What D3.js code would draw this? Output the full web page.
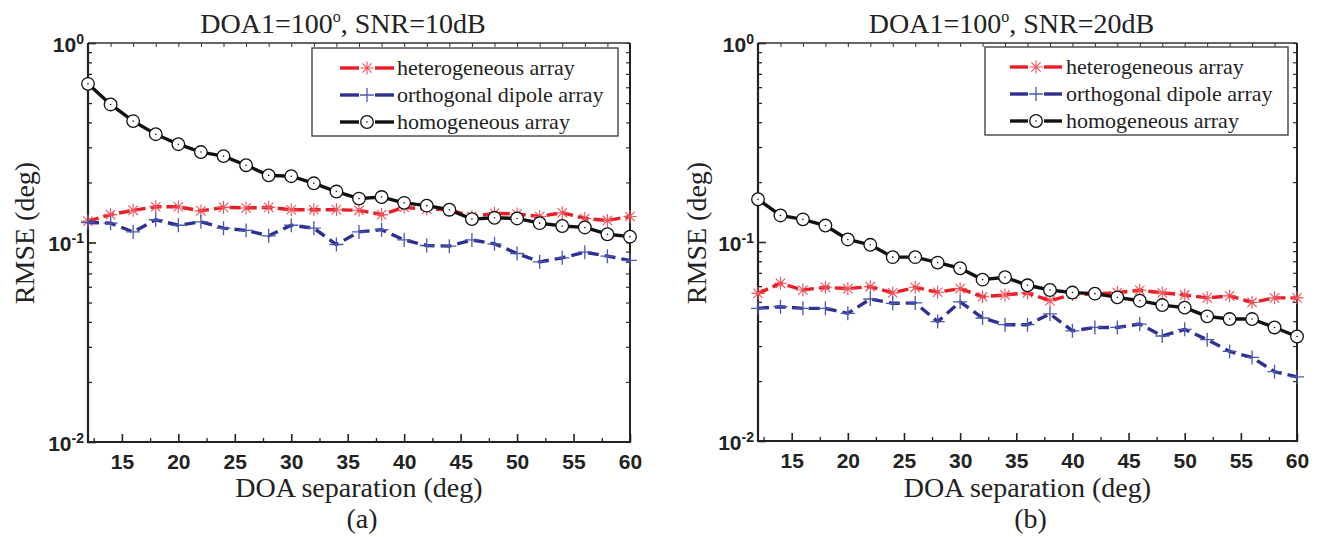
<!DOCTYPE html>
<html><head><meta charset="utf-8">
<script src="https://cdn.jsdelivr.net/npm/d3@7"></script>
<style>body{margin:0;background:#fff}svg{display:block}</style>
</head><body>
<svg id="c" width="1321" height="537"></svg>
<script>
// ---------- data ----------
const separation = [12,14,16,18,20,22,24,26,28,30,32,34,36,38,40,42,44,46,48,50,52,54,56,58,60];

// (a) SNR = 10 dB
const heteroA = [0.128,0.138,0.145,0.151,0.151,0.144,0.150,0.149,0.150,0.146,0.146,0.146,0.145,0.138,0.150,0.147,0.146,0.135,0.140,0.139,0.135,0.141,0.132,0.129,0.135];
const orthoA  = [0.126,0.125,0.113,0.130,0.122,0.127,0.118,0.115,0.108,0.122,0.118,0.0977,0.113,0.116,0.103,0.0966,0.0959,0.103,0.0985,0.0881,0.080,0.0838,0.0894,0.0854,0.0813];
const homoA   = [0.624,0.492,0.406,0.349,0.311,0.284,0.271,0.244,0.217,0.215,0.198,0.180,0.166,0.169,0.158,0.153,0.146,0.131,0.133,0.132,0.125,0.121,0.119,0.110,0.107];

// (b) SNR = 20 dB
const heteroB = [0.0552,0.062,0.0574,0.0592,0.0583,0.0597,0.0555,0.0592,0.0559,0.0583,0.0531,0.0542,0.0555,0.0507,0.0544,0.0548,0.0557,0.0572,0.0555,0.0542,0.0524,0.0536,0.0497,0.0524,0.0524];
const orthoB  = [0.0464,0.0473,0.0464,0.0464,0.0438,0.0517,0.0492,0.0494,0.0398,0.050,0.0415,0.0384,0.0384,0.0435,0.0358,0.0372,0.0372,0.0387,0.0337,0.0364,0.0323,0.0282,0.0263,0.0223,0.021];
const homoB   = [0.164,0.136,0.130,0.121,0.103,0.0968,0.0839,0.0839,0.0788,0.0738,0.0647,0.0665,0.0606,0.0574,0.0557,0.055,0.0527,0.0507,0.0482,0.0468,0.0423,0.041,0.041,0.0372,0.0335];

const seriesNames = ["heterogeneous array", "orthogonal dipole array", "homogeneous array"];
const xTickValues = [15,20,25,30,35,40,45,50,55,60];
const xMinorTicks = [12.5,17.5,22.5,27.5,32.5,37.5,42.5,47.5,52.5,57.5];
const yTickValues = [0.01, 0.1, 1];
const yTickExponents = ["-2", "-1", "0"];
const yMinorTicks = [0.02,0.03,0.04,0.05,0.06,0.07,0.08,0.09,0.2,0.3,0.4,0.5,0.6,0.7,0.8,0.9];
const titleBase = ["DOA1=100", "DOA1=100"];
const titleSup = ["o", "o"];
const titleTail = [", SNR=10dB", ", SNR=20dB"];
const panelTags = ["(a)", "(b)"];
const xLabel = "DOA separation (deg)";
const yLabel = "RMSE (deg)";

// ---------- styling / layout ----------
const panels = [
  {x0: 88, x1: 630, y0: 43, y1: 442, data: [heteroA, orthoA, homoA], legend: {x: 312, y: 48, w: 306, h: 88, lx0: 340, lx1: 394, tx: 397}, ylabX: 34},
  {x0: 758, x1: 1297, y0: 43, y1: 441, data: [heteroB, orthoB, homoB], legend: {x: 985, y: 47, w: 303, h: 88, lx0: 1010, lx1: 1062, tx: 1066}, ylabX: 706}
];
const styles = [
  {line: "#ec1c24", dash: "11,5", mark: "#f0505a", type: "star"},
  {line: "#2e3192", dash: "11,6", mark: "#4b58b0", type: "plus"},
  {line: "#111111", dash: null, mark: "#111111", type: "circle"}
];
const serif = "'Liberation Serif', 'Times New Roman', serif";
const sans = "'Liberation Sans', Arial, sans-serif";

const svg = d3.select("#c");

function drawMarker(g, type, cx, cy, color) {
  if (type === "star") {
    const r = 6.5, d = r * 0.72;
    g.append("path")
      .attr("d", `M${cx-r},${cy}L${cx+r},${cy}M${cx},${cy-r}L${cx},${cy+r}M${cx-d},${cy-d}L${cx+d},${cy+d}M${cx-d},${cy+d}L${cx+d},${cy-d}`)
      .attr("stroke", color).attr("stroke-width", 1.1).attr("fill", "none");
  } else if (type === "plus") {
    const r = 7;
    g.append("path")
      .attr("d", `M${cx-r},${cy}L${cx+r},${cy}M${cx},${cy-r}L${cx},${cy+r}`)
      .attr("stroke", color).attr("stroke-width", 1.3).attr("fill", "none");
  } else {
    g.append("circle").attr("cx", cx).attr("cy", cy).attr("r", 6.3)
      .attr("fill", "#fff").attr("stroke", color).attr("stroke-width", 1.3);
    g.append("circle").attr("cx", cx).attr("cy", cy).attr("r", 0.8).attr("fill", color);
  }
}

panels.forEach((p, pi) => {
  const x = d3.scaleLinear().domain([12, 60]).range([p.x0, p.x1]);
  const y = d3.scaleLog().domain([0.01, 1]).range([p.y1, p.y0]);
  const g = svg.append("g");

  // bottom axis (major, inward)
  const bx = g.append("g").attr("transform", `translate(0,${p.y1})`)
    .call(d3.axisBottom(x).tickValues(xTickValues).tickSize(-8).tickSizeOuter(0).tickPadding(14).tickFormat(d3.format("d")));
  bx.select(".domain").remove();
  bx.selectAll("line").attr("stroke", "#222").attr("stroke-width", 1.6);
  bx.selectAll("text").attr("font-family", sans).attr("font-weight", "bold").attr("font-size", 21)
    .attr("fill", "#222").attr("dy", "0.95em").attr("y", 7);
  // bottom minor ticks
  const bm = g.append("g").attr("transform", `translate(0,${p.y1})`)
    .call(d3.axisBottom(x).tickValues(xMinorTicks).tickSize(-4).tickSizeOuter(0).tickFormat(""));
  bm.select(".domain").remove();
  bm.selectAll("line").attr("stroke", "#222").attr("stroke-width", 1.3);
  // top ticks
  const tm = g.append("g").attr("transform", `translate(0,${p.y0})`)
    .call(d3.axisTop(x).tickValues(separation.slice(1, -1)).tickSize(-4).tickSizeOuter(0).tickFormat(""));
  tm.select(".domain").remove();
  tm.selectAll("line").attr("stroke", "#333").attr("stroke-width", 1);

  // left axis major
  const ly = g.append("g").attr("transform", `translate(${p.x0},0)`)
    .call(d3.axisLeft(y).tickValues(yTickValues).tickSize(-8).tickSizeOuter(0).tickPadding(4).tickFormat(""));
  ly.select(".domain").remove();
  ly.selectAll("line").attr("stroke", "#222").attr("stroke-width", 1.6);
  ly.selectAll(".tick").each(function(d, i) {
    const t = d3.select(this).append("text")
      .attr("x", -4).attr("y", 8).attr("text-anchor", "end")
      .attr("font-family", sans).attr("font-weight", "bold").attr("font-size", 21).attr("fill", "#222");
    t.append("tspan").text("10");
    t.append("tspan").attr("font-size", 14).attr("dy", -8).text(yTickExponents[i]);
  });
  const lm = g.append("g").attr("transform", `translate(${p.x0},0)`)
    .call(d3.axisLeft(y).tickValues(yMinorTicks).tickSize(-4).tickSizeOuter(0).tickFormat(""));
  lm.select(".domain").remove();
  lm.selectAll("line").attr("stroke", "#222").attr("stroke-width", 1.3);
  // right axis ticks
  const rm = g.append("g").attr("transform", `translate(${p.x1},0)`)
    .call(d3.axisRight(y).tickValues(yMinorTicks.concat(yTickValues)).tickSize(-4).tickSizeOuter(0).tickFormat(""));
  rm.select(".domain").remove();
  rm.selectAll("line").attr("stroke", "#333").attr("stroke-width", 1.2);

  // frame
  g.append("line").attr("x1", p.x0).attr("x2", p.x1).attr("y1", p.y0).attr("y2", p.y0).attr("stroke", "#333").attr("stroke-width", 1.5);
  g.append("line").attr("x1", p.x1).attr("x2", p.x1).attr("y1", p.y0).attr("y2", p.y1).attr("stroke", "#222").attr("stroke-width", 2);
  g.append("line").attr("x1", p.x0).attr("x2", p.x0).attr("y1", p.y0).attr("y2", p.y1 + 1).attr("stroke", "#222").attr("stroke-width", 2.2);
  g.append("line").attr("x1", p.x0 - 1).attr("x2", p.x1 + 1).attr("y1", p.y1).attr("y2", p.y1).attr("stroke", "#222").attr("stroke-width", 2.2);

  // series
  const line = d3.line().x((d, i) => x(separation[i])).y(d => y(d));
  p.data.forEach((vals, si) => {
    const st = styles[si];
    const sg = g.append("g");
    sg.append("path").datum(vals).attr("d", line).attr("fill", "none")
      .attr("stroke", st.line).attr("stroke-width", 3.4)
      .attr("stroke-dasharray", st.dash).attr("stroke-linejoin", "round");
    vals.forEach((v, i) => drawMarker(sg, st.type, x(separation[i]), y(v), st.mark));
  });

  // legend
  const L = p.legend;
  const lg = g.append("g");
  lg.append("rect").attr("x", L.x).attr("y", L.y).attr("width", L.w).attr("height", L.h)
    .attr("fill", "#fff").attr("stroke", "#444").attr("stroke-width", 1.4);
  seriesNames.forEach((name, si) => {
    const st = styles[si];
    const cy = L.y + 20 + si * 27;
    const mid = (L.lx0 + L.lx1) / 2;
    lg.append("line").attr("x1", L.lx0).attr("x2", mid - 8).attr("y1", cy).attr("y2", cy)
      .attr("stroke", st.line).attr("stroke-width", 3.4);
    lg.append("line").attr("x1", mid + 8).attr("x2", L.lx1).attr("y1", cy).attr("y2", cy)
      .attr("stroke", st.line).attr("stroke-width", 3.4);
    drawMarker(lg, st.type, mid, cy, st.mark);
    lg.append("text").attr("x", L.tx).attr("y", cy + 7).attr("font-family", serif)
      .attr("font-size", 22).attr("fill", "#222").text(name);
  });

  // title
  const cx = (p.x0 + p.x1) / 2;
  const tt = g.append("text").attr("x", cx - 16).attr("y", 33).attr("text-anchor", "middle")
    .attr("font-family", serif).attr("font-size", 28).attr("fill", "#222");
  tt.append("tspan").text(titleBase[pi]);
  tt.append("tspan").attr("font-size", 16).attr("dy", -11).text(titleSup[pi]);
  tt.append("tspan").attr("dy", 11).text(titleTail[pi]);

  // axis labels
  g.append("text").attr("x", cx).attr("y", 497).attr("text-anchor", "middle")
    .attr("font-family", serif).attr("font-size", 28).attr("fill", "#222").text(xLabel);
  g.append("text").attr("x", cx + 3).attr("y", 528).attr("text-anchor", "middle")
    .attr("font-family", serif).attr("font-size", 28).attr("fill", "#222").text(panelTags[pi]);
  g.append("text").attr("transform", `translate(${p.ylabX},233) rotate(-90)`).attr("text-anchor", "middle")
    .attr("font-family", serif).attr("font-size", 28).attr("fill", "#222").text(yLabel);
});
</script>
</body></html>
